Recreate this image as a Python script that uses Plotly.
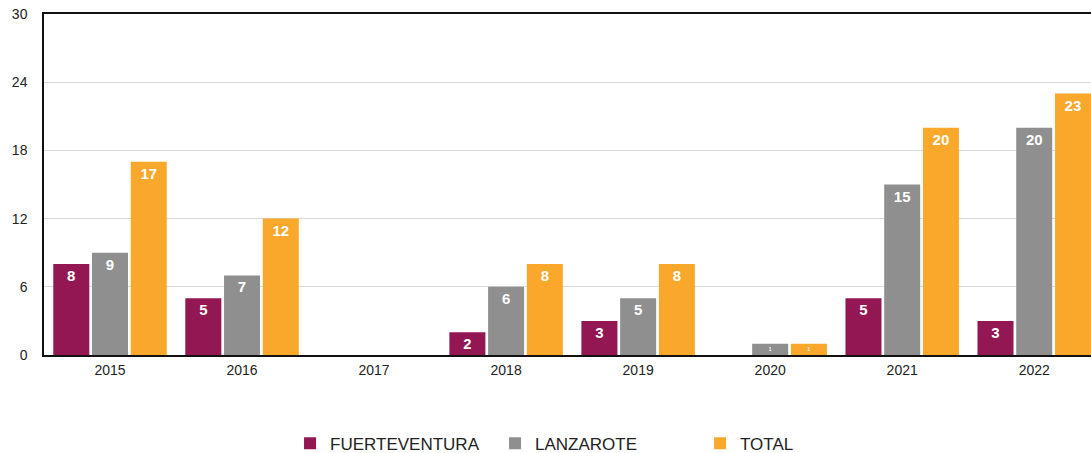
import plotly.graph_objects as go

years = ['2015', '2016', '2017', '2018', '2019', '2020', '2021', '2022']
fuerteventura = [8, 5, 0, 2, 3, 0, 5, 3]
lanzarote = [9, 7, 0, 6, 5, 1, 15, 20]
total = [17, 12, 0, 8, 8, 1, 20, 23]
y_ticks = [0, 6, 12, 18, 24, 30]

series = [('FUERTEVENTURA', fuerteventura, '#921752'),
          ('LANZAROTE', lanzarote, '#8F8F8F'),
          ('TOTAL', total, '#F9A82B')]

fig = go.Figure()
for name, vals, color in series:
    fig.add_trace(go.Bar(x=years, y=vals, name=name, marker=dict(color=color, line=dict(width=0)),
                         text=[str(v) if v else '' for v in vals],
                         textposition='inside', insidetextanchor='end',
                         textfont=dict(color='white', size=15, family='Liberation Sans', weight='bold'),
                         textangle=0))

fig.update_layout(width=1091, height=453, barmode='group', bargap=0.12, bargroupgap=0.07,
                  paper_bgcolor='white', plot_bgcolor='white',
                  font=dict(family='Liberation Sans, Arial, sans-serif', color='#222222', size=14),
                  margin=dict(l=44, r=0, t=14, b=98, autoexpand=False),
                  legend=dict(orientation='h', x=0.235, xanchor='left', y=-0.207, yanchor='top',
                              font=dict(size=17, color='#222222'), itemwidth=30,
                              entrywidth=160, traceorder='normal'))

fig.update_xaxes(range=[-0.5, 7.43], showline=True, linecolor='#111111', linewidth=1.5, mirror=True,
                 ticks='', tickfont=dict(size=14), ticklabelstandoff=1, automargin=False)
fig.update_yaxes(range=[0, 30], tickvals=y_ticks, showgrid=True, gridcolor='#d9d9d9',
                 showline=True, linecolor='#111111', linewidth=1.5, zeroline=False,
                 ticks='', ticklabelstandoff=12, tickfont=dict(size=14), automargin=False)

# drop the default 8px page margin so the figure sits flush in the window
fig.write_html("out.html", config={'displayModeBar': False},
               post_script="document.body.style.margin='0';")
